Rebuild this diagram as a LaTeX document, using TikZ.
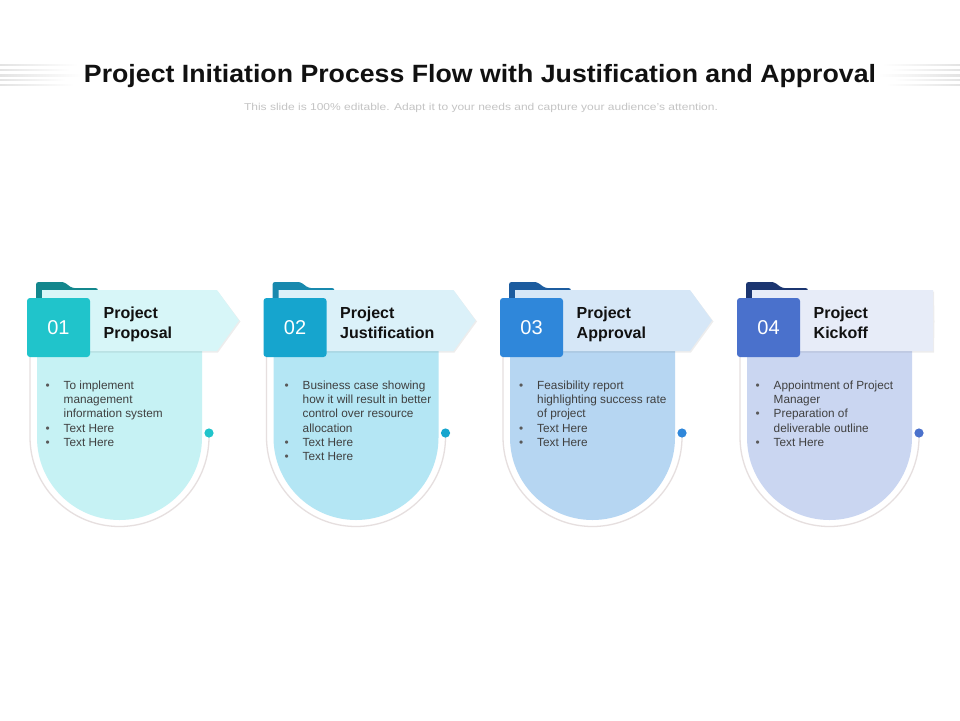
\documentclass[tikz,border=0pt]{standalone}
\usepackage{fontspec}
\usepackage{graphicx}
\setmainfont{Liberation Sans}
\definecolor{titlec}{HTML}{111111}
\definecolor{subc}{HTML}{C4C4C4}
\definecolor{bodytxt}{HTML}{404040}
\definecolor{bulc}{HTML}{595959}
\definecolor{outl}{HTML}{E6DFDF}
\definecolor{c1sq}{HTML}{20C4CB}\definecolor{c1tab}{HTML}{13878D}\definecolor{c1ban}{HTML}{D7F6F8}\definecolor{c1body}{HTML}{C6F2F4}
\definecolor{c2sq}{HTML}{16A5CE}\definecolor{c2tab}{HTML}{1889AE}\definecolor{c2ban}{HTML}{DBF1F9}\definecolor{c2body}{HTML}{B4E6F4}
\definecolor{c3sq}{HTML}{2F87DA}\definecolor{c3tab}{HTML}{1C5C9F}\definecolor{c3ban}{HTML}{D6E7F7}\definecolor{c3body}{HTML}{B6D6F2}
\definecolor{c4sq}{HTML}{4A71CC}\definecolor{c4tab}{HTML}{1B3570}\definecolor{c4ban}{HTML}{E7ECF8}\definecolor{c4body}{HTML}{CAD6F1}
\newcommand\fitw[2]{\sbox0{#2}\pgfmathsetmacro\sx{#1/\the\wd0}\scalebox{\sx}[1]{\usebox0}}
\newcommand\bi{\makebox[18pt][l]{\textcolor{bulc}{\textbullet}}}
\newcommand\bc{\hspace*{18pt}}
\tikzset{
  outline/.style={draw=outl, line width=1.3pt},
  numtxt/.style={inner sep=0pt, text=white, font=\fontsize{20}{24}\selectfont},
  hdrtxt/.style={anchor=north west, inner sep=0pt, align=left, text=titlec, font=\bfseries\fontsize{16}{20.5}\selectfont},
  bultxt/.style={anchor=north west, inner sep=0pt, align=left, text=bodytxt, font=\fontsize{11.8}{14.3}\selectfont},
}
% #1 offset, #2 id, #3 number, #4 header, #5 bullets, #6 banner a, #7 banner tip, #8 text shift
\newcommand\mycard[8]{%
\begin{scope}[xshift=#1pt]
  \fill[c#2tab, rounded corners=2.5pt] (36,357) -- (36,282) -- (64,282) -- (72,288) -- (98,288) -- (98,351) -- (94,351) -- (94,357) -- cycle;
  \draw[outline] (30,340) -- (30,437) arc[start angle=180, end angle=360, radius=89.5pt];
  \fill[c#2body] (37,340) -- (37,437.5) arc[start angle=180, end angle=360, radius=82.5pt] -- (202,340) -- cycle;
  \fill[black, opacity=0.07] (43,291.5) -- (#6+1,291.5) -- (#7+1.5,321.5) -- (#6+1,352.5) -- (43,352.5) -- cycle;
  \fill[c#2ban] (42,290) -- (#6,290) -- (#7,320.5) -- (#6,351) -- (42,351) -- cycle;
  \fill[c#2sq, rounded corners=3pt] (27,298) rectangle (90,357);
  \fill[c#2sq] (209,433) circle[radius=4.6pt];
  \node[numtxt] (num#2) at (58.5,328) {#3};
  \node[hdrtxt] (hdr#2) at (103.5,306) {\rule{0pt}{12pt}#4};
  \node[bultxt] (txt#2) at (45.5+#8,380) {\rule{0pt}{9pt}#5};
\end{scope}}
\begin{document}
\begin{tikzpicture}[x=1pt, y=-1pt]
\fill[white] (0,0) rectangle (960,720);
\useasboundingbox (0,0) rectangle (960,720);
\foreach \yy/\ll in {65/78,70/70,75.5/82,80/66,85/74} {
  \shade[left color=gray!22, right color=white] (0,\yy-0.8) rectangle (\ll,\yy+0.8);
  \shade[left color=white, right color=gray!22] (960-\ll,\yy-0.8) rectangle (960,\yy+0.8);
}
\node[anchor=base, inner sep=0pt, text=titlec, font=\bfseries\fontsize{25}{28}\selectfont] (title) at (480,82) {\fitw{792}{Project Initiation Process Flow with Justification and Approval}};
\node[anchor=base, inner sep=0pt, text=subc, font=\fontsize{10}{12}\selectfont] (subtitle) at (481,110) {\fitw{474}{This slide is 100\% editable. Adapt it to your needs and capture your audience's attention.}};
\mycard{0}{1}{01}{Project\\Proposal}{\bi To implement\\\bc management\\\bc information system\\\bi Text Here\\\bi Text Here}{217}{239}{0}
\mycard{236.5}{2}{02}{Project\\Justification}{\bi Business case showing\\\bc how it will result in better\\\bc control over resource\\\bc allocation\\\bi Text Here\\\bi Text Here}{217}{239}{2.5}
\mycard{473}{3}{03}{Project\\Approval}{\bi Feasibility report\\\bc highlighting success rate\\\bc of project\\\bi Text Here\\\bi Text Here}{217}{239}{0.5}
\mycard{710}{4}{04}{Project\\Kickoff}{\bi Appointment of Project\\\bc Manager\\\bi Preparation of\\\bc deliverable outline\\\bi Text Here}{223}{223}{0}
\end{tikzpicture}
\end{document}
